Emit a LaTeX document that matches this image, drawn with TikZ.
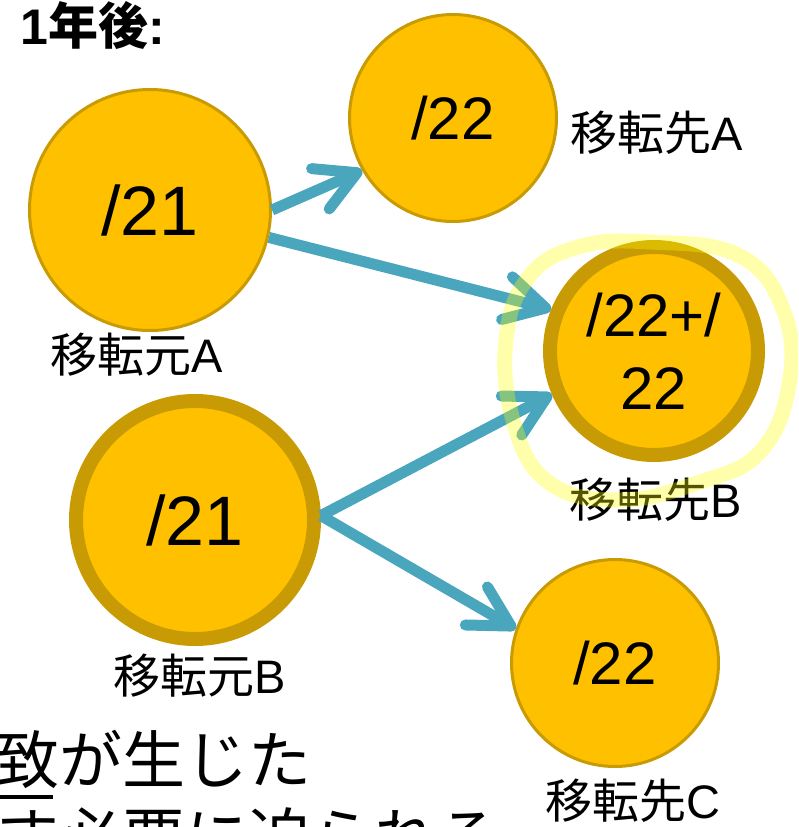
\documentclass[tikz,border=0pt]{standalone}
\usepackage{fontspec}
\setmainfont{Liberation Sans}
\newfontfamily\cjk{Noto Sans CJK JP}
\usetikzlibrary{arrows.meta}
\definecolor{coinfill}{HTML}{FFC000}
\definecolor{coinline}{HTML}{C89A04}
\definecolor{arrowteal}{HTML}{4AA6BD}
\definecolor{hilite}{HTML}{FFFF00}
\begin{document}
\begin{tikzpicture}[x=1pt,y=-1pt,
  coin/.style={circle, fill=coinfill, draw=coinline, inner sep=0pt, text=black, align=center,
    font=\fontsize{60}{73}\selectfont},
  thinring/.style={line width=3pt},
  heavyring/.style={line width=14pt},
  bigtext/.style={font=\fontsize{70}{80}\selectfont},
  lbl/.style={inner sep=0pt, font=\fontsize{47}{50}\selectfont},
  flow/.style={draw=arrowteal, line width=11pt, -{Straight Barb[length=40pt,width=44pt,round]}},
  bodytext/.style={anchor=base west, inner sep=0pt, font=\cjk\fontsize{63}{77}\selectfont}
]
\useasboundingbox (0,0) rectangle (798,827);
\clip (0,0) rectangle (798,827);

\node[font=\bfseries\fontsize{50}{54}\selectfont, inner sep=0pt] (title) at (93,25) {1{\cjk\bfseries 年後}:};

\node[coin, thinring, bigtext, minimum size=241pt] (srcA) at (150,210) {/21};
\node[coin, thinring, minimum size=207pt] (tgtA) at (453,118) {/22};
\node[coin, heavyring, minimum size=208pt] (tgtB) at (654,351) {/22+/\\22};
\node[coin, heavyring, bigtext, minimum size=238pt] (srcB) at (195,520) {/21};
\node[coin, thinring, minimum size=207pt] (tgtC) at (615,663) {/22};

\node[lbl] (labA) at (657,133) {{\cjk 移転先}A};
\node[lbl] (labSA) at (137,355) {{\cjk 移転元}A};
\node[lbl] (labB) at (656,500) {{\cjk 移転先}B};
\node[lbl] (labSB) at (200,676) {{\cjk 移転元}B};
\node[lbl] (labC) at (633,801) {{\cjk 移転先}C};

\draw[flow] (srcA.0) -- (tgtA.210);
\draw[flow] (srcA.-13) -- (tgtB.158);
\draw[flow] (srcB.2) -- (tgtB.203);
\draw[flow] (srcB.2) -- (tgtC.161);

\node[bodytext] (line1) at (-4,783) {致が生じた};
\node[bodytext] (line2) at (-4,860) {す必要に迫られる};
\draw[line width=4pt] (-10,797) -- (53,797);

\draw[hilite, line width=15pt, opacity=0.33, line cap=round]
  plot[smooth cycle, tension=0.7] coordinates {
   (650,242) (740,256) (784,312) (789,385) (760,452) (700,482) (620,500)
   (548,482) (513,420) (506,340) (528,278) (578,247)};
\end{tikzpicture}
\end{document}
